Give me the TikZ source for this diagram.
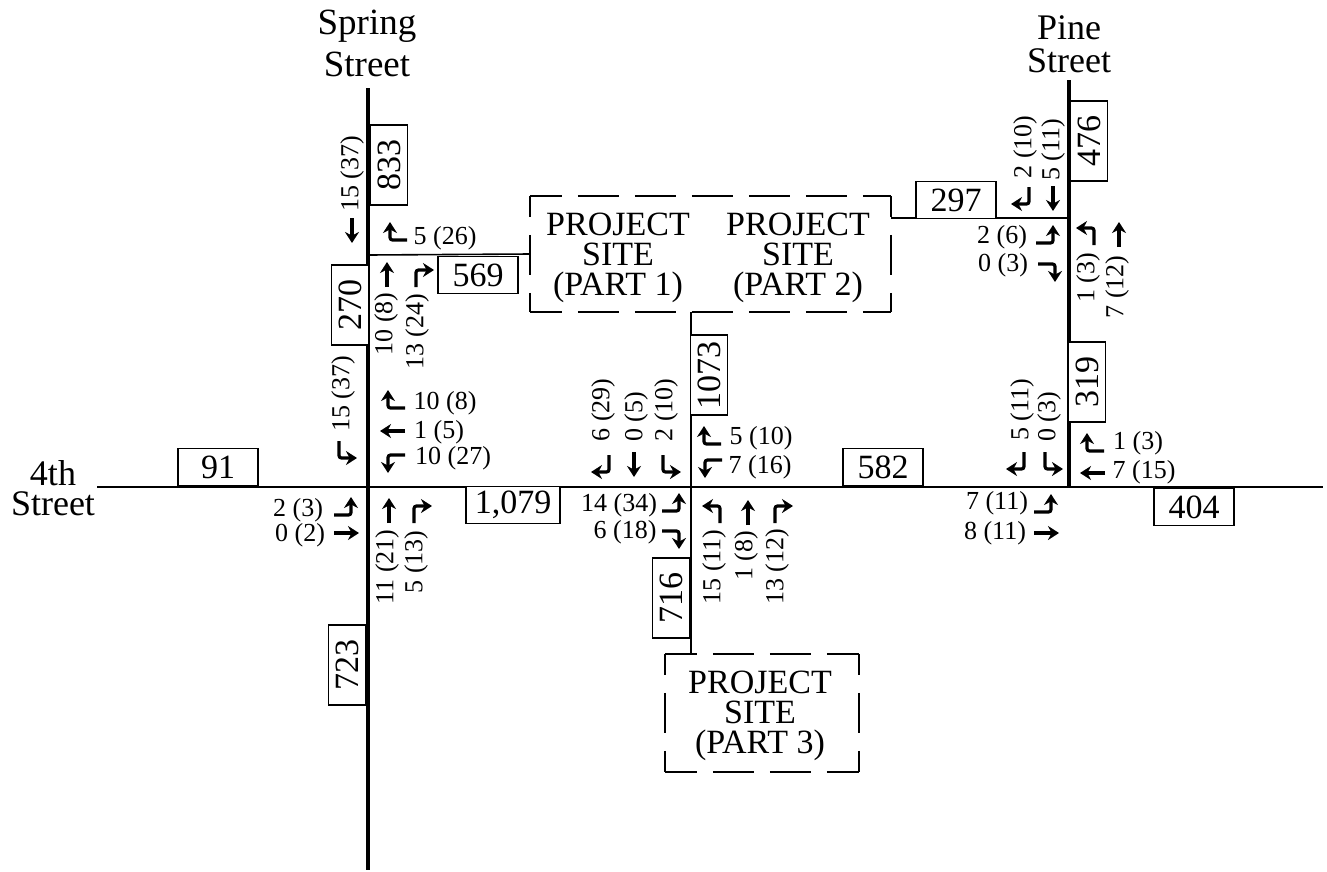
\documentclass[tikz,border=0pt]{standalone}
\usepackage{fontspec}
\setmainfont{Liberation Serif}
\usetikzlibrary{arrows.meta}
\tikzset{
  road/.style={line width=3.2pt},
  drive/.style={line width=1.6pt},
  countbox/.style={draw, line width=1.5pt, fill=white, inner sep=0pt, minimum width=80pt, minimum height=37pt, font=\fontsize{34}{34}\selectfont},
  vol/.style={inner sep=0pt, font=\fontsize{26}{28}\selectfont},
  volup/.style={vol, rotate=90},
  site/.style={inner sep=0pt},
  sideh/.style={line width=1.5pt, dash pattern=on 41pt off 16pt, dash phase=9pt},
  sidev/.style={line width=1.5pt, dash pattern=on 40pt off 18pt, dash phase=19pt},
  sitetext/.style={align=center, inner sep=0pt, font=\fontsize{34}{30}\selectfont},
  street/.style={align=center, inner sep=0pt, font=\fontsize{37}{42}\selectfont},
  move/.style={line width=3.2pt, rounded corners=2.5pt, -{Stealth[length=11pt,width=14pt]}},
  pics/thru/.style={code={\draw[move] (0,0) -- (0,-25);}},
  pics/turnr/.style={code={\draw[move] (0,0) -- (0,-17) -- (18,-17);}},
  pics/turnl/.style={code={\draw[move] (0,0) -- (0,-17) -- (-18,-17);}},
}
\begin{document}
\begin{tikzpicture}[x=1pt, y=-1pt]
  \useasboundingbox (0,0) rectangle (1327,871);

  \coordinate (springtop) at (368,88);
  \coordinate (springend) at (368,870);
  \coordinate (pinetop) at (1069,80);
  \coordinate (pinefoot) at (1069,488);
  \coordinate (fourthleft) at (97,487);
  \coordinate (fourthright) at (1323,487);
  \coordinate (springdrive) at (368,255);
  \coordinate (pinedrive) at (1069,218);
  \coordinate (site12east) at (891,218);
  \coordinate (site12foot) at (691,312);
  \coordinate (site3head) at (691,654);

  \node[site, minimum width=361pt, minimum height=116pt] (site12) at (710.5,254) {};
  \node[site, minimum width=194pt, minimum height=118pt] (site3) at (762,713) {};

  \draw[sideh] (site12.north west) -- (site12.north east);
  \draw[sideh] (site12.south west) -- (site12.south east);
  \draw[sidev] (site12.north west) -- (site12.south west);
  \draw[sidev] (site12.north east) -- (site12.south east);
  \draw[sideh] (site3.north west) -- (site3.north east);
  \draw[sideh] (site3.south west) -- (site3.south east);
  \draw[sidev] (site3.north west) -- (site3.south west);
  \draw[sidev] (site3.north east) -- (site3.south east);

  \draw[road, line width=4pt] (springtop) -- (springend);
  \draw[road] (pinetop) -- (pinefoot);
  \draw[road, line width=2.8pt] (fourthleft) -- (fourthright);
  \draw[drive] (site12foot) -- (site3head);
  \draw[drive] (springdrive) -- (site12.west);
  \draw[drive] (site12east) -- (pinedrive);

  \node[street] (spring) at (367,43) {Spring\\Street};
  \node[street, font=\fontsize{36}{33}\selectfont] (pine) at (1069,44) {Pine\\Street};
  \node[street, font=\fontsize{36}{30}\selectfont] (fourth) at (53,488) {4th\\Street};

  \node[sitetext] (part1) at (618,258) {PROJECT\\SITE\\(PART 1)};
  \node[sitetext] (part2) at (798,258) {PROJECT\\SITE\\(PART 2)};
  \node[sitetext] (part3) at (760,716) {PROJECT\\SITE\\(PART 3)};

  \node[countbox] (b91) at (218,467) {91};
  \node[countbox, rotate=90] (b723) at (347,665) {723};
  \node[countbox, rotate=90] (b833) at (389,165) {833};
  \node[countbox, rotate=90] (b270) at (350,305) {270};
  \node[countbox] (b569) at (478,275) {569};
  \node[countbox, minimum width=94pt] (b1079) at (513,505) {1,079};
  \node[countbox, rotate=90] (b1073) at (709,375) {1073};
  \node[countbox, rotate=90] (b716) at (671,598) {716};
  \node[countbox] (b582) at (883,467) {582};
  \node[countbox] (b297) at (956,200) {297};
  \node[countbox, rotate=90] (b476) at (1089,141) {476};
  \node[countbox, rotate=90] (b319) at (1087,382) {319};
  \node[countbox] (b404) at (1194,507) {404};

  \node[volup] (v1) at (352,174) {15 (37)};
  \node[volup] (v2) at (343,394) {15 (37)};
  \node[volup] (v3) at (386,324) {10 (8)};
  \node[volup] (v4) at (417,332) {13 (24)};
  \node[vol] (v5) at (445,238) {5 (26)};
  \node[vol] (v6) at (445,403) {10 (8)};
  \node[vol] (v7) at (439,432) {1 (5)};
  \node[vol] (v8) at (453,458) {10 (27)};
  \node[vol] (v9) at (298,510) {2 (3)};
  \node[vol] (v10) at (300,535) {0 (2)};
  \node[volup] (v11) at (387,567) {11 (21)};
  \node[volup] (v12) at (416,562) {5 (13)};
  \node[volup] (v13) at (603,410) {6 (29)};
  \node[volup] (v14) at (636,417) {0 (5)};
  \node[volup] (v15) at (666,410) {2 (10)};
  \node[vol] (v16) at (761,438) {5 (10)};
  \node[vol] (v17) at (760,467) {7 (16)};
  \node[vol] (v18) at (619,505) {14 (34)};
  \node[vol] (v19) at (625,532) {6 (18)};
  \node[volup] (v20) at (714,567) {15 (11)};
  \node[volup] (v21) at (746,556) {1 (8)};
  \node[volup] (v22) at (777,567) {13 (12)};
  \node[volup] (v23) at (1025,147) {2 (10)};
  \node[volup] (v24) at (1053,150) {5 (11)};
  \node[vol] (v25) at (1002,237) {2 (6)};
  \node[vol] (v26) at (1003,265) {0 (3)};
  \node[volup] (v27) at (1088,278) {1 (3)};
  \node[volup] (v28) at (1117,287) {7 (12)};
  \node[volup] (v29) at (1022,410) {5 (11)};
  \node[volup] (v30) at (1049,417) {0 (3)};
  \node[vol] (v31) at (1138,443) {1 (3)};
  \node[vol] (v32) at (1144,472) {7 (15)};
  \node[vol] (v33) at (997,503) {7 (11)};
  \node[vol] (v34) at (995,533) {8 (11)};

  \pic[rotate=180] at (352,218) {thru};
  \pic[rotate=90] at (407,240) {turnr};
  \pic at (387,287) {thru};
  \pic at (416,287) {turnr};
  \pic[rotate=180] at (339,441) {turnl};
  \pic[rotate=90] at (405,408) {turnr};
  \pic[rotate=90] at (405,431) {thru};
  \pic[rotate=90] at (405,455) {turnl};
  \pic[rotate=-90] at (334,515) {turnl};
  \pic[rotate=-90] at (334,533) {thru};
  \pic at (389,523) {thru};
  \pic at (414,523) {turnr};

  \pic[rotate=180] at (609,455) {turnr};
  \pic[rotate=180] at (634,452) {thru};
  \pic[rotate=180] at (663,455) {turnl};
  \pic[rotate=90] at (721,444) {turnr};
  \pic[rotate=90] at (722,460) {turnl};
  \pic[rotate=-90] at (662,511) {turnl};
  \pic[rotate=-90] at (662,531) {turnr};
  \pic at (720,523) {turnl};
  \pic at (748,525) {thru};
  \pic at (775,523) {turnr};

  \pic[rotate=180] at (1029,187) {turnr};
  \pic[rotate=180] at (1053,186) {thru};
  \pic[rotate=-90] at (1036,243) {turnl};
  \pic[rotate=-90] at (1038,264) {turnr};
  \pic at (1094,245) {turnl};
  \pic at (1119,247) {thru};
  \pic[rotate=180] at (1024,452) {turnr};
  \pic[rotate=180] at (1045,452) {turnl};
  \pic[rotate=90] at (1104,451) {turnr};
  \pic[rotate=90] at (1105,473) {thru};
  \pic[rotate=-90] at (1034,512) {turnl};
  \pic[rotate=-90] at (1034,533) {thru};
\end{tikzpicture}
\end{document}
